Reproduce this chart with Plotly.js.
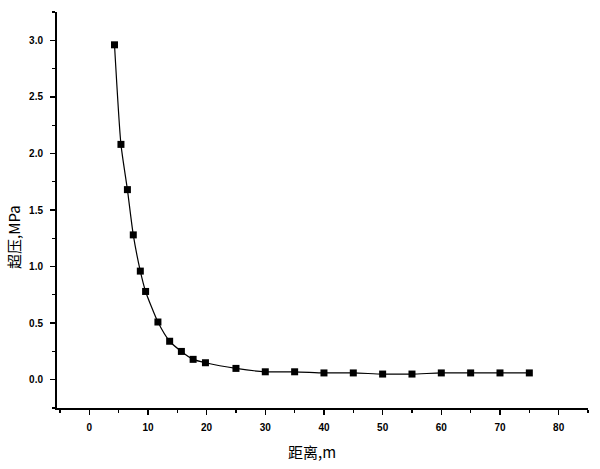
<!DOCTYPE html>
<html>
<head>
<meta charset="utf-8">
<script src="https://cdn.plot.ly/plotly-3.0.1.min.js"></script>
<style>
  html, body { margin: 0; padding: 0; background: #fff; }
  #chart { width: 600px; height: 469px; }
</style>
</head>
<body>
<div id="chart"></div>
<script>
// distance (m) and overpressure (MPa)
var distance = [4.3, 5.4, 6.5, 7.5, 8.7, 9.6, 11.7, 13.7, 15.7, 17.7, 19.8,
                25, 30, 35, 40, 45, 50, 55, 60, 65, 70, 75];
var overpressure = [2.96, 2.08, 1.68, 1.28, 0.96, 0.78, 0.51, 0.34, 0.25, 0.18, 0.15,
                    0.10, 0.07, 0.07, 0.06, 0.06, 0.05, 0.05, 0.06, 0.06, 0.06, 0.06];

var xTicks = [0, 10, 20, 30, 40, 50, 60, 70, 80];
var yTicks = [0.0, 0.5, 1.0, 1.5, 2.0, 2.5, 3.0];
var yTickText = ['0.0', '0.5', '1.0', '1.5', '2.0', '2.5', '3.0'];

var trace = {
    x: distance,
    y: overpressure,
    type: 'scatter',
    mode: 'lines+markers',
    line: {color: '#000', width: 1.2, shape: 'spline', smoothing: 0.6},
    marker: {symbol: 'square', size: 7, color: '#000'},
    hoverinfo: 'skip'
};

var axisFont = {family: 'Liberation Sans, Arial, sans-serif', size: 10, color: '#000', weight: 'bold'};
var titleFont = {family: 'Noto Sans CJK SC, sans-serif', size: 15, color: '#000'};

var layout = {
    width: 600,
    height: 469,
    margin: {l: 57, r: 12, t: 12, b: 61},
    paper_bgcolor: '#fff',
    plot_bgcolor: '#fff',
    showlegend: false,
    xaxis: {
        range: [-5.5, 85],
        tickvals: xTicks,
        ticks: 'outside',
        ticklen: 5,
        tickwidth: 1.5,
        tickcolor: '#000',
        ticklabelstandoff: 4,
        showline: true,
        linecolor: '#000',
        linewidth: 2,
        showgrid: false,
        zeroline: false,
        tickfont: axisFont,
        minor: {dtick: 5, ticks: 'outside', ticklen: 3, tickcolor: '#000', tickwidth: 1.2, showgrid: false}
    },
    yaxis: {
        range: [-0.25, 3.25],
        tickvals: yTicks,
        ticktext: yTickText,
        ticks: 'outside',
        ticklen: 5,
        tickwidth: 1.5,
        tickcolor: '#000',
        ticklabelstandoff: 5,
        showline: true,
        linecolor: '#000',
        linewidth: 2,
        showgrid: false,
        zeroline: false,
        tickfont: axisFont,
        minor: {dtick: 0.25, ticks: 'outside', ticklen: 3, tickcolor: '#000', tickwidth: 1.2, showgrid: false}
    },
    annotations: [
        {
            text: '距离,m', xref: 'paper', yref: 'paper',
            x: 0.48, y: -0.11, xanchor: 'center', yanchor: 'middle',
            showarrow: false,
            font: titleFont
        },
        {
            text: '超压,MPa', xref: 'paper', yref: 'paper',
            x: -0.081, y: 0.432, xanchor: 'center', yanchor: 'middle',
            textangle: -90, showarrow: false,
            font: titleFont
        }
    ]
};

Plotly.newPlot('chart', [trace], layout, {displayModeBar: false, staticPlot: true});
</script>
</body>
</html>
